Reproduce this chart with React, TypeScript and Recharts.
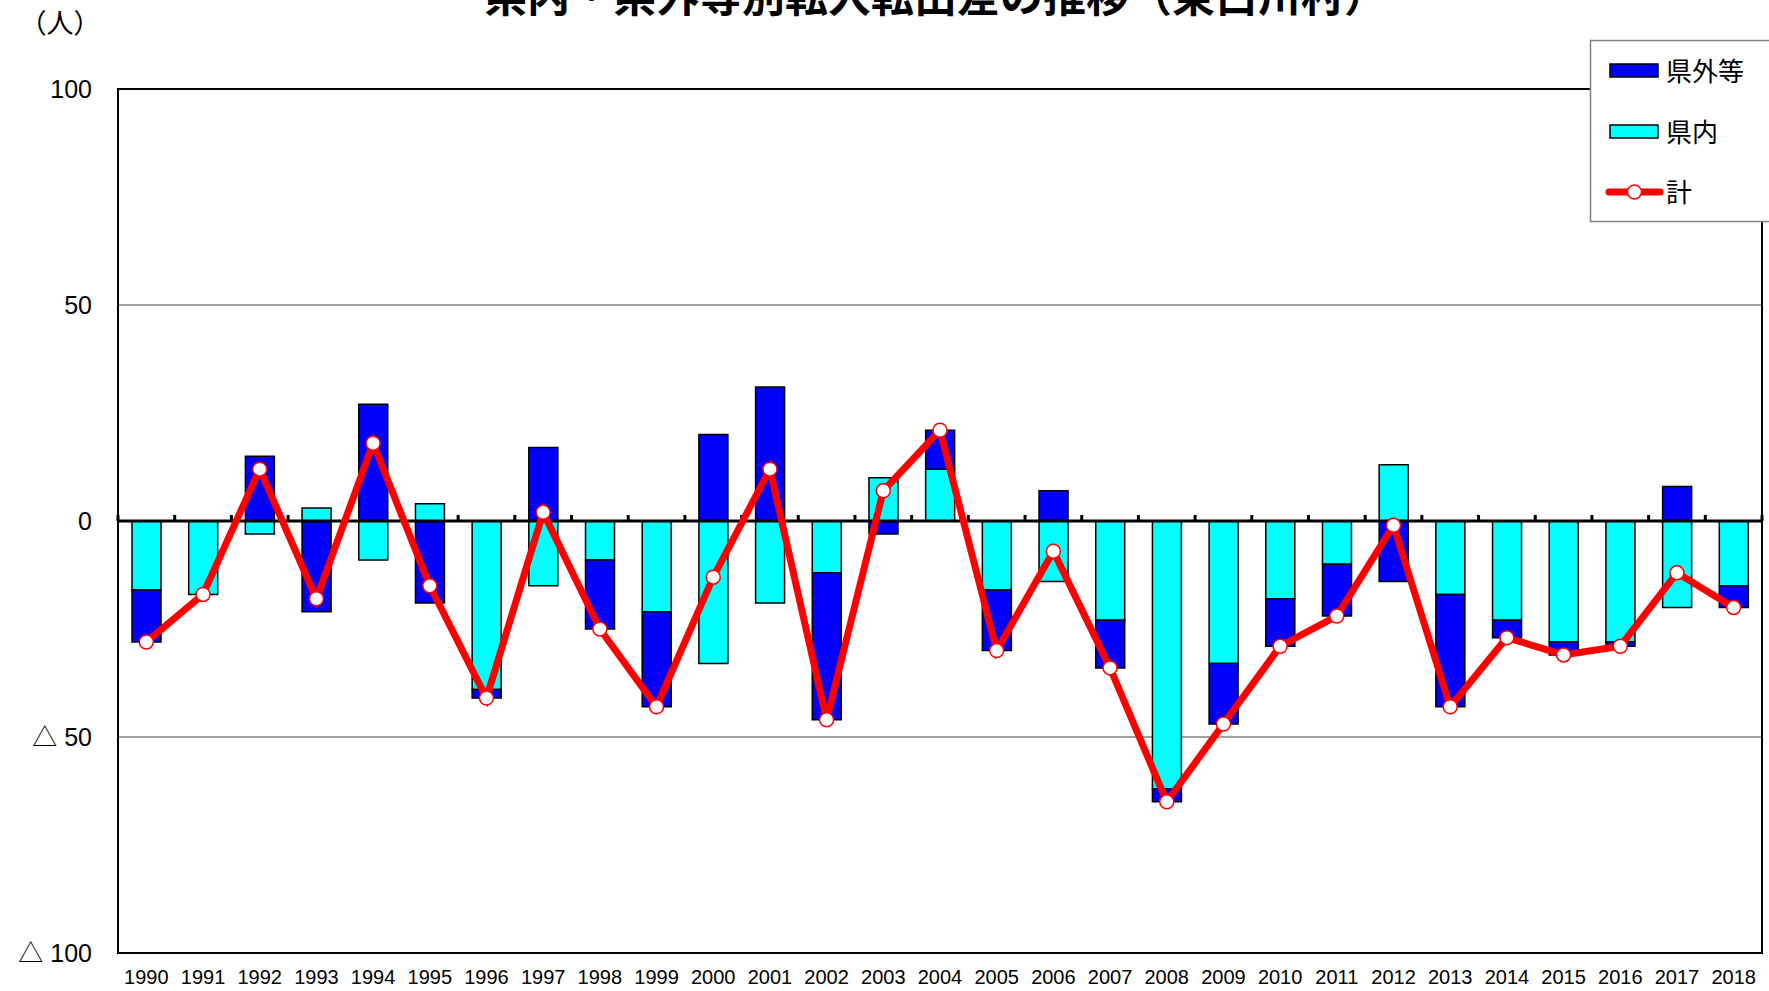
import React from "react";
import {
  ComposedChart,
  Bar,
  Line,
  XAxis,
  YAxis,
  CartesianGrid,
  ReferenceLine,
  ReferenceArea,
} from "recharts";

const YEARS = [
  "1990", "1991", "1992", "1993", "1994", "1995", "1996", "1997", "1998", "1999",
  "2000", "2001", "2002", "2003", "2004", "2005", "2006", "2007", "2008", "2009",
  "2010", "2011", "2012", "2013", "2014", "2015", "2016", "2017", "2018",
];

// 県外等
const OUTSIDE = [
  -12, 0, 15, -21, 27, -19, -2, 17, -16, -22,
  20, 31, -34, -3, 9, -14, 7, -11, -3, -14,
  -11, -12, -14, -26, -4, -3, -1, 8, -5,
];

// 県内
const INSIDE = [
  -16, -17, -3, 3, -9, 4, -39, -15, -9, -21,
  -33, -19, -12, 10, 12, -16, -14, -23, -62, -33,
  -18, -10, 13, -17, -23, -28, -28, -20, -15,
];

// 計
const TOTAL = [
  -28, -17, 12, -18, 18, -15, -41, 2, -25, -43,
  -13, 12, -46, 7, 21, -30, -7, -34, -65, -47,
  -29, -22, -1, -43, -27, -31, -29, -12, -20,
];

const Y_TICKS = [-100, -50, 0, 50, 100];

const TITLE = "県内・県外等別転入転出差の推移（東白川村）";
const UNIT = "（人）";

const COLORS = {
  outside: "#0000ff",
  inside: "#00ffff",
  total: "#ff0000",
};

const data = YEARS.map((year, i) => ({
  year,
  inside: INSIDE[i],
  outside: OUTSIDE[i],
  total: TOTAL[i],
}));

const NUM_FONT = "'Liberation Sans', Arial, 'Noto Sans CJK JP', sans-serif";
const JP_FONT = "'Noto Sans CJK JP', sans-serif";

const fmtY = (v: number) => (v < 0 ? `△ ${-v}` : `${v}`);

function Overlay() {
  return (
    <svg
      width={1769}
      height={991}
      style={{ position: "absolute", left: 0, top: 0, pointerEvents: "none" }}
    >
      <text x={484} y={12} fontSize={43} fontWeight={700} fontFamily={JP_FONT} fill="#000">
        {TITLE}
      </text>
      <text x={60} y={33} fontSize={27} textAnchor="middle" fontFamily={JP_FONT} fill="#000">
        {UNIT}
      </text>

      <rect x={1590.5} y={40.5} width={220} height={181} fill="#fff" stroke="#808080" strokeWidth={1.5} />
      <rect x={1610} y={64} width={48} height={13} fill={COLORS.outside} stroke="#000" strokeWidth={1.5} />
      <text x={1666} y={81} fontSize={26} fontFamily={JP_FONT} fill="#000">県外等</text>
      <rect x={1610} y={125} width={48} height={13} fill={COLORS.inside} stroke="#000" strokeWidth={1.5} />
      <text x={1666} y={142} fontSize={26} fontFamily={JP_FONT} fill="#000">県内</text>
      <line x1={1609} y1={192} x2={1660} y2={192} stroke={COLORS.total} strokeWidth={7} strokeLinecap="round" />
      <circle cx={1634.5} cy={192} r={7} fill="#fff" stroke={COLORS.total} strokeWidth={1.5} />
      <text x={1666} y={202} fontSize={26} fontFamily={JP_FONT} fill="#000">計</text>
    </svg>
  );
}

export default function App() {
  return (
    <div
      style={{
        position: "absolute",
        left: 0,
        top: 0,
        width: 1769,
        height: 991,
        overflow: "hidden",
        background: "#fff",
      }}
    >
      <ComposedChart
        width={1769}
        height={991}
        data={data}
        stackOffset="sign"
        margin={{ top: 89, right: 7, bottom: 0, left: 0 }}
      >
        <CartesianGrid vertical={false} stroke="#808080" strokeWidth={1.5} />
        <XAxis
          dataKey="year"
          height={38}
          axisLine={false}
          tickLine={false}
          interval={0}
          tickMargin={11}
          tick={{ fontSize: 20, fill: "#000", fontFamily: NUM_FONT }}
        />
        <YAxis
          width={118}
          domain={[-100, 100]}
          ticks={Y_TICKS}
          tickFormatter={fmtY}
          axisLine={{ stroke: "#000", strokeWidth: 2 }}
          tickLine={false}
          tickMargin={20}
          tick={{ fontSize: 25, fill: "#000", fontFamily: NUM_FONT }}
          allowDataOverflow
        />
        <ReferenceArea y1={-100} y2={100} fill="none" stroke="#000" strokeWidth={2} />
        <Bar
          dataKey="inside"
          stackId="a"
          fill={COLORS.inside}
          stroke="#000"
          strokeWidth={1.5}
          barSize={29}
          isAnimationActive={false}
        />
        <Bar
          dataKey="outside"
          stackId="a"
          fill={COLORS.outside}
          stroke="#000"
          strokeWidth={1.5}
          barSize={29}
          isAnimationActive={false}
        />
        <ReferenceLine y={0} stroke="#000" strokeWidth={3} />
        {YEARS.map((y) => (
          <ReferenceLine
            key={`t${y}`}
            segment={[{ x: y, y: 0 }, { x: y, y: 1.4 }]}
            position="start"
            stroke="#000"
            strokeWidth={3}
          />
        ))}
        <ReferenceLine
          segment={[{ x: YEARS[YEARS.length - 1], y: 0 }, { x: YEARS[YEARS.length - 1], y: 1.4 }]}
          position="end"
          stroke="#000"
          strokeWidth={3}
        />
        <Line
          type="linear"
          dataKey="total"
          stroke={COLORS.total}
          strokeWidth={7}
          dot={{ r: 7, fill: "#fff", stroke: COLORS.total, strokeWidth: 1.5 }}
          activeDot={false}
          isAnimationActive={false}
        />
      </ComposedChart>
      <Overlay />
    </div>
  );
}
